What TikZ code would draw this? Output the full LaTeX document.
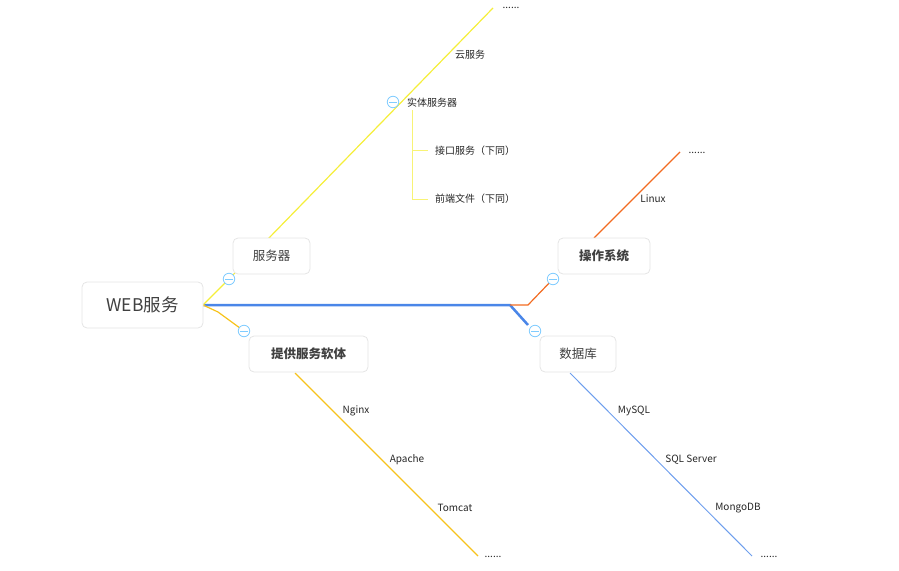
\documentclass[tikz,border=0pt]{standalone}
\usepackage{fontspec}
\setmainfont{Noto Sans CJK SC}
\begin{document}
\begin{tikzpicture}[x=1pt,y=-1pt,
 box/.style={draw=black!10,rounded corners=5pt,fill=white,line width=0.8pt,text=black!75},
 lbl/.style={font=\fontsize{10}{12}\selectfont,text=black!85},
 tog/.style={draw=blue!40!cyan!50,fill=white,circle,inner sep=0pt,minimum size=11.5pt,line width=0.8pt}]
\useasboundingbox (0,0) rectangle (899,570);
\definecolor{yel}{HTML}{F5EE3A}\definecolor{gold}{HTML}{F7C31C}
\definecolor{org}{HTML}{F26B21}\definecolor{blu}{HTML}{4A86E8}
% spine
\draw[blu,line width=2.5pt] (203,305) -- (510,305) -- (528,325);
\draw[org,line width=1.2pt] (510,305) -- (528,305) -- (553,279);
\draw[yel,line width=1.2pt] (203,305) -- (229,279);
\draw[gold,line width=1.2pt] (203,305) -- (218,312) -- (244,331);
% branches
\draw[yel,line width=1.2pt] (229,279) -- (493,8);
\draw[yel!70,line width=0.8pt] (412,110) -- (412,199) -- (428,199) (412,150) -- (428,150);
\draw[gold,line width=1.2pt] (295,373) -- (478,556);
\draw[org,line width=1.2pt] (594,238) -- (680,152);
\draw[blu!80,line width=1pt] (570,373) -- (752,556);
% boxes
\node[box,minimum width=121pt,minimum height=46pt,font=\fontsize{17.5}{20}\selectfont] (root) at (142.5,305) {WEB服务};
\node[box,minimum width=77pt,minimum height=36pt,font=\fontsize{12.5}{14}\selectfont] (srv) at (271.5,256) {服务器};
\node[box,minimum width=119pt,minimum height=36pt,font=\bfseries\fontsize{12.5}{14}\selectfont] (soft) at (308.5,354) {提供服务软体};
\node[box,minimum width=92pt,minimum height=36pt,font=\bfseries\fontsize{12.5}{14}\selectfont] (os) at (604,256) {操作系统};
\node[box,minimum width=76pt,minimum height=36pt,font=\fontsize{12.5}{14}\selectfont] (db) at (578,354) {数据库};
% toggles
\foreach \n/\p in {t1/{(229,279)},t2/{(244,331)},t3/{(553,279)},t4/{(535,331)},t5/{(393,102)}}{
 \node[tog] (\n) at \p {};
 \draw[blue!40!cyan!50,line width=0.8pt] ([xshift=-4pt]\n.center) -- ([xshift=4pt]\n.center);}
% labels
\node[lbl] at (511,8) {......};
\node[lbl] at (470,55) {云服务};
\node[lbl] at (432,103) {实体服务器};
\node[lbl] at (475,151) {接口服务（下同）};
\node[lbl] at (475,199) {前端文件（下同）};
\node[lbl] at (356,411) {Nginx};
\node[lbl] at (407,460) {Apache};
\node[lbl] at (455,508) {Tomcat};
\node[lbl] at (493,557) {......};
\node[lbl] at (653,199) {Linux};
\node[lbl] at (697,153) {......};
\node[lbl] at (634,411) {MySQL};
\node[lbl] at (691,460) {SQL Server};
\node[lbl] at (738,508) {MongoDB};
\node[lbl] at (769,557) {......};
\end{tikzpicture}
\end{document}
